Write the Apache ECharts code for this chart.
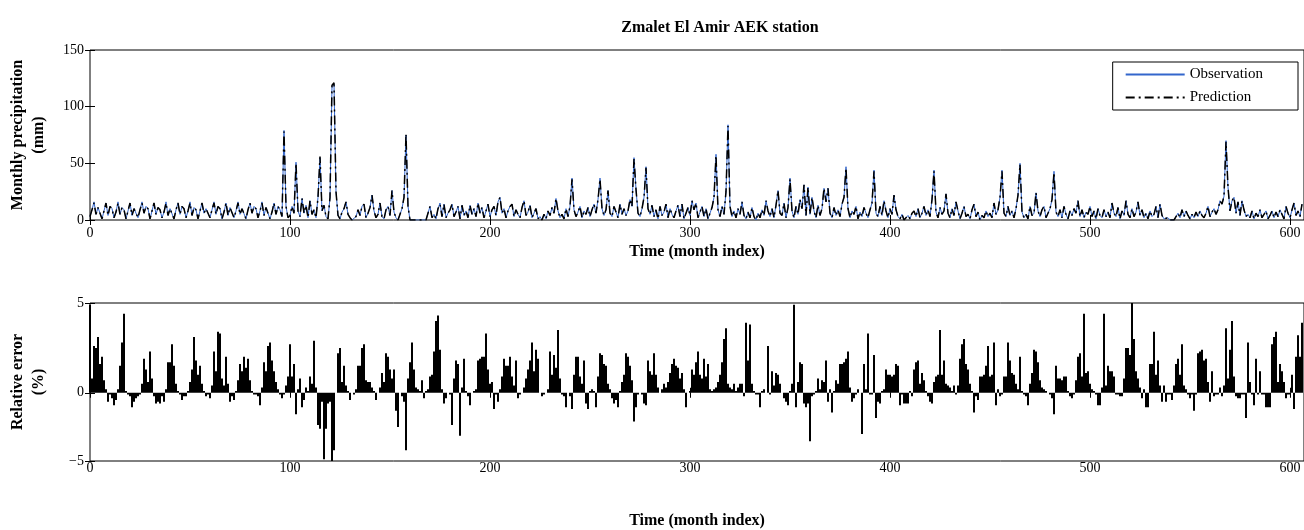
<!DOCTYPE html>
<html>
<head>
<meta charset="utf-8">
<script src="https://cdn.jsdelivr.net/npm/echarts@6/dist/echarts.min.js"></script>
<style>
  html, body { margin: 0; padding: 0; background: #fff; }
  #chart { width: 1304px; height: 530px; }
</style>
</head>
<body>
<div id="chart"></div>
<script>
// monthly precipitation (mm), month index 0..606
var observation = [
  3,9,16,5,11,10,1,8,15,4,  12,10,2,7,16,5,11,9,1,8,
  15,4,10,11,2,9,16,6,12,10,  1,8,15,5,11,9,2,7,16,4,
  10,11,1,9,15,5,12,10,2,8,  16,4,11,9,1,8,15,6,10,11,
  2,9,16,5,12,10,1,7,15,4,  11,10,2,8,16,5,10,9,1,9,
  15,6,12,10,2,8,16,4,11,10,  1,7,15,5,12,9,3,79,12,2,
  4,12,6,51,8,3,19,6,13,2,  17,5,9,2,20,55,8,13,3,1,
  20,118,120,25,4,1,7,10,16,5,  2,0,1,3,9,4,12,14,2,6,
  11,22,8,2,5,15,3,1,9,12,  4,26,7,2,0,5,10,20,75,12,
  0,0,0,1,0,0,0,1,0,0,  12,2,5,1,10,15,3,14,2,6,
  9,14,3,7,12,1,13,4,8,2,  13,5,10,3,15,6,11,2,8,14,
  3,9,12,4,16,20,6,10,2,8,  12,14,3,9,5,2,11,17,4,7,
  13,2,6,10,1,3,0,5,1,8,  4,11,6,19,8,2,5,1,10,3,
  12,37,9,3,7,12,2,8,5,11,  3,9,14,6,18,37,10,4,9,26,
  6,3,12,7,2,14,5,10,4,8,  18,12,55,27,6,3,10,20,47,10,
  5,13,3,9,1,12,4,7,14,2,  10,5,2,8,13,3,14,1,6,11,
  4,17,9,15,2,7,12,3,10,1,  6,11,20,58,9,3,12,5,25,84,
  12,3,8,2,10,5,16,4,1,7,  2,11,3,0,6,2,9,4,17,8,
  3,10,2,13,26,6,4,15,2,11,  37,8,2,12,5,18,10,31,4,29,
  5,20,8,2,13,4,10,28,16,28,  6,2,11,4,9,3,14,20,47,10,
  2,8,5,12,1,7,3,11,6,2,  9,15,44,6,3,12,4,17,8,2,
  10,5,22,9,3,1,5,0,2,4,  1,6,8,3,10,2,6,12,4,9,
  3,18,44,7,2,11,5,8,23,6,  2,10,4,16,8,1,6,12,3,5,
  1,9,14,3,7,0,4,2,8,3,  6,2,15,5,9,20,44,6,3,12,
  4,8,2,10,22,50,7,2,5,1,  12,4,6,24,8,3,9,12,2,6,
  10,18,43,7,3,9,2,12,5,1,  8,4,10,6,17,3,9,2,7,5,
  12,3,8,1,10,4,2,9,3,7,  2,15,6,3,11,1,8,4,17,5,
  2,10,3,7,16,4,9,2,6,1,  8,3,5,12,2,14,4,1,0,2,
  0,1,0,3,6,2,9,3,8,4,  1,5,2,7,3,8,4,2,6,12,
  3,7,10,5,9,17,14,21,70,29,  8,17,20,6,16,4,17,9,3,5,
  2,8,1,6,3,9,2,5,8,1,  4,8,2,7,3,9,5,1,12,6,
  2,9,15,4,8,3,14
];

var prediction = [
  3,9,15,5,11,10,1,8,15,4,  12,10,2,7,15,5,11,9,1,8,
  15,4,10,11,2,9,15,6,12,10,  1,8,15,5,11,9,2,7,15,4,
  10,11,1,9,15,5,12,10,2,8,  15,4,11,9,1,8,15,6,10,11,
  2,9,15,5,12,10,1,7,15,4,  11,10,2,8,15,5,10,9,1,9,
  15,6,12,10,2,8,15,4,11,10,  1,7,15,5,12,9,3,78,12,2,
  4,12,6,50,8,3,19,6,13,2,  17,5,9,2,20,56,8,13,3,1,
  20,119,121,25,4,1,7,10,16,5,  2,0,1,3,9,4,12,14,2,6,
  11,22,8,2,5,15,3,1,9,12,  4,26,7,2,0,5,10,20,76,12,
  0,0,0,1,0,0,0,1,0,0,  12,2,5,1,10,14,3,14,2,6,
  9,14,3,7,12,1,13,4,8,2,  13,5,10,3,15,6,11,2,8,14,
  3,9,12,4,16,20,6,10,2,8,  12,14,3,9,5,2,11,17,4,7,
  13,2,6,10,1,3,0,5,1,8,  4,11,6,19,8,2,5,1,10,3,
  12,36,9,3,7,12,2,8,5,11,  3,9,14,6,18,36,10,4,9,26,
  6,3,12,7,2,14,5,10,4,8,  18,12,54,27,6,3,10,20,46,10,
  5,13,3,9,1,12,4,7,14,2,  10,5,2,8,13,3,14,1,6,11,
  4,17,9,15,2,7,12,3,10,1,  6,11,20,57,9,3,12,5,25,83,
  12,3,8,2,10,5,16,4,1,7,  2,11,3,0,6,2,9,4,17,8,
  3,10,2,13,26,6,4,15,2,11,  36,8,2,12,5,18,10,31,4,29,
  5,20,8,2,13,4,10,28,16,28,  6,2,11,4,9,3,14,20,46,10,
  2,8,5,12,1,7,3,11,6,2,  9,15,43,6,3,12,4,17,8,2,
  10,5,22,9,3,1,5,0,2,4,  1,6,8,3,10,2,6,12,4,9,
  3,18,43,7,2,11,5,8,23,6,  2,10,4,16,8,1,6,12,3,5,
  1,9,14,3,7,0,4,2,8,3,  6,2,15,5,9,20,43,6,3,12,
  4,8,2,10,22,49,7,2,5,1,  12,4,6,24,8,3,9,12,2,6,
  10,18,42,7,3,9,2,12,5,1,  8,4,10,6,17,3,9,2,7,5,
  12,3,8,1,10,4,2,9,3,7,  2,15,6,3,11,1,8,4,17,5,
  2,10,3,7,16,4,9,2,6,1,  8,3,5,12,2,14,4,1,0,2,
  0,1,0,3,6,2,9,3,8,4,  1,5,2,7,3,8,4,2,6,12,
  3,7,10,5,9,17,14,21,69,29,  8,17,20,6,16,4,17,9,3,5,
  2,8,1,6,3,9,2,5,8,1,  4,8,2,7,3,9,5,1,12,6,
  2,9,15,4,8,3,14
];

// relative error (%), month index 0..606
var relativeError = [
  4.9,0.8,2.6,2.5,3.1,1.6,2.0,0.7,0.2,-0.5,
  -0.1,-0.3,-0.7,-0.4,0.2,1.5,2.8,4.4,0.1,-0.1,
  -0.2,-0.8,-0.5,-0.3,-0.2,-0.1,0.5,1.9,1.3,0.6,
  2.3,0.8,-0.2,-0.6,-0.5,-0.6,-0.2,-0.5,0.2,1.7,
  1.7,2.7,1.5,0.5,0.1,-0.1,-0.4,-0.2,-0.2,0.1,
  0.6,1.3,3.1,1.8,1.0,1.5,0.5,0.1,-0.2,-0.1,
  -0.3,0.4,2.3,1.2,3.4,3.3,0.8,0.4,2.0,0.5,
  -0.5,-0.2,-0.4,0.1,0.7,1.6,1.2,2.0,1.4,1.9,
  0.7,0.1,-0.1,-0.1,-0.2,-0.7,0.3,1.7,1.2,2.6,
  2.8,1.8,1.2,0.6,0.2,-0.1,-0.3,-0.1,0.4,0.9,
  2.7,0.9,1.6,-1.2,0.2,0.8,-0.8,-0.4,0.3,0.1,
  0.9,0.5,2.9,0.3,-1.8,-2.0,-0.5,-3.7,-2.0,-0.6,
  -0.5,-3.9,-3.2,0.0,2.2,2.5,0.6,1.5,0.4,0.1,
  -0.4,0.0,-0.1,0.2,1.5,1.5,2.5,2.7,0.7,0.6,
  0.6,0.3,0.1,-0.4,0.0,0.3,1.1,0.6,2.2,2.0,
  1.3,0.8,1.3,-1.0,-1.9,0.0,-0.2,-0.5,-3.2,0.8,
  1.7,2.8,1.3,0.3,0.2,0.1,0.7,-0.3,0.1,0.2,
  0.9,1.0,2.3,4.0,4.3,2.4,0.2,-0.6,-0.3,0.0,
  -0.1,-1.8,0.8,1.8,1.6,-2.4,0.3,1.9,0.1,-0.2,
  -0.7,0.0,0.1,0.2,1.8,1.9,2.0,2.0,3.3,1.3,
  0.5,0.6,-0.9,-0.1,-0.5,0.2,0.9,1.9,1.5,1.5,
  2.0,0.9,0.4,1.8,-0.3,-0.1,0.0,0.3,0.8,1.3,
  1.8,2.8,1.2,2.4,1.9,0.0,-0.2,-0.1,0.0,0.2,
  2.3,1.0,2.1,1.4,3.5,0.8,-0.1,-0.2,-0.8,0.0,
  -0.2,-0.9,1.0,2.0,2.0,0.9,0.5,1.8,-0.6,-0.9,
  0.1,0.2,0.1,-0.8,0.9,2.2,2.1,1.6,1.5,0.5,
  0.2,-0.3,-0.6,-0.4,-0.8,0.1,0.6,1.0,2.2,2.0,
  1.5,0.7,-1.6,-0.8,-0.1,0.0,-0.1,-0.6,-0.7,1.8,
  1.2,1.0,2.2,1.0,0.3,0.0,0.2,0.5,0.3,0.6,
  1.1,1.6,1.9,1.5,1.4,0.8,1.1,0.2,-0.8,0.0,
  0.1,1.3,1.0,1.7,2.3,1.0,0.8,1.9,0.9,1.6,
  0.2,0.1,0.2,0.3,0.6,1.0,1.7,3.0,3.6,0.5,
  0.3,0.2,0.5,0.1,0.3,0.5,0.5,-0.2,3.9,1.8,
  3.8,0.5,0.1,-0.1,-0.1,-0.8,0.1,0.2,0.0,2.6,
  -0.1,1.2,0.4,1.1,1.0,0.5,0.0,-0.3,-0.5,-0.7,
  0.1,0.5,4.9,-0.8,0.6,1.7,1.6,-0.6,-0.8,-0.6,
  -2.7,-0.2,-0.1,0.1,0.8,0.2,0.7,0.6,1.8,-0.5,
  0.2,-1.1,0.1,0.7,0.5,1.6,1.6,1.7,1.9,2.3,
  0.3,-0.5,-0.3,-0.1,0.2,0.0,-2.3,1.6,0.2,3.3,
  -0.1,-0.1,2.1,-1.4,-0.5,-0.6,0.1,0.2,1.3,1.0,
  1.0,0.9,1.0,1.6,1.5,-0.7,-0.1,-0.6,-0.6,-0.6,
  0.1,-0.2,1.3,1.7,1.8,0.5,1.1,0.7,0.1,-0.2,
  -0.5,-0.6,0.6,0.9,1.0,3.5,1.0,1.8,0.5,0.4,
  0.3,0.1,0.4,-0.1,0.4,1.9,2.7,3.0,1.6,1.3,
  0.5,0.1,-1.1,-0.2,-0.4,0.9,0.9,1.0,1.5,2.6,
  0.9,1.0,2.8,-0.7,0.2,-0.2,-0.1,0.9,0.9,2.8,
  1.8,1.1,1.0,0.5,0.2,2.0,0.1,-0.1,-0.2,-0.7,
  0.5,1.1,2.4,2.3,1.7,0.7,0.3,0.2,0.1,0.0,
  -0.1,-0.3,-1.2,1.5,0.8,0.8,0.7,0.9,0.9,0.1,
  -0.2,-0.3,-0.1,0.7,2.0,2.2,0.9,4.4,1.1,1.2,
  0.5,0.2,0.1,-0.1,-0.7,-0.7,0.3,4.4,0.4,1.5,
  1.2,1.2,0.9,-0.1,-0.1,-0.2,-0.2,0.8,2.5,2.5,
  2.1,5.0,3.0,1.2,0.8,0.3,-0.3,0.2,-0.8,-0.8,
  1.6,1.6,3.4,1.0,1.8,0.4,-0.5,0.4,-0.5,-0.1,
  -0.1,-0.4,0.4,1.6,1.9,1.0,2.7,0.4,0.2,-0.1,
  -0.3,-0.1,-1.0,-0.1,2.2,2.3,2.4,1.8,1.9,0.6,
  -0.5,1.2,-0.2,-0.1,-0.1,0.3,-0.2,0.4,3.6,0.8,
  2.4,4.0,0.9,-0.2,-0.3,-0.3,-0.1,-0.1,-1.4,2.8,
  0.6,-0.1,-0.7,1.9,-0.1,1.2,-0.1,-0.1,-0.8,-0.8,
  -0.8,2.7,3.1,3.4,0.6,1.6,1.2,0.6,-0.3,-0.1,
  -0.1,1.0,-0.9,2.0,3.2,2.0,3.9
];

var monthTicks = [0, 100, 200, 300, 400, 500, 600];
var errorTickValues = [-3.8, 0, 5];
var errorTickLabels = ['\u22125', '0', '5'];

var FONT = 'Liberation Serif';

function toPairs(arr) {
  return arr.map(function (v, i) { return [i, v]; });
}

var chart = echarts.init(document.getElementById('chart'), null, { renderer: 'canvas' });

function xAx(grid, pos, labels, name, gap, labelMargin) {
  return {
    type: 'value', gridIndex: grid, position: pos,
    min: 0, max: 607,
    axisLine: { show: false },
    splitLine: { show: false },
    axisTick: { show: true, inside: true, length: 5, customValues: monthTicks,
      lineStyle: { color: '#000', width: 1 } },
    axisLabel: { show: labels, customValues: monthTicks, margin: labelMargin == null ? 6 : labelMargin,
      color: '#000', fontFamily: FONT, fontSize: 14 },
    name: name || '', nameLocation: 'middle', nameGap: gap || 24,
    nameTextStyle: { color: '#000', fontFamily: FONT, fontSize: 16, fontWeight: 'bold' }
  };
}

var option = {
  animation: false,
  backgroundColor: '#fff',
  title: {
    text: 'Zmalet El Amir AEK station',
    left: 715, top: 15, textAlign: 'center',
    textStyle: { fontFamily: FONT, fontSize: 16, fontWeight: 'bold', color: '#000' }
  },
  legend: {
    data: ['Observation', 'Prediction'],
    orient: 'vertical', right: 6, top: 62,
    backgroundColor: '#fff', borderColor: '#000', borderWidth: 1, borderRadius: 0,
    padding: [5, 35, 5, 12], itemWidth: 59, itemHeight: 14, itemGap: 8,
    itemStyle: { opacity: 0 },
    textStyle: { fontFamily: FONT, fontSize: 15, color: '#000' }
  },
  grid: [
    { left: 90, top: 50, width: 1214, height: 170, show: true, borderColor: '#000', borderWidth: 1,
      outerBoundsMode: 'none' },
    { left: 90, top: 303, width: 1214, height: 158, show: true, borderColor: '#000', borderWidth: 1,
      outerBoundsMode: 'none' }
  ],
  xAxis: [
    xAx(0, 'bottom', true, 'Time (month index)', 24),
    xAx(0, 'top', false),
    xAx(1, 'bottom', true, 'Time (month index)', 52, 0),
    xAx(1, 'top', false)
  ],
  yAxis: [
    {
      type: 'value', gridIndex: 0, position: 'left', min: 0, max: 150, interval: 50,
      axisLine: { show: false }, splitLine: { show: false },
      axisTick: { inside: true, length: 5, lineStyle: { color: '#000' } },
      axisLabel: { margin: 6, color: '#000', fontFamily: FONT, fontSize: 14 },
      name: 'Monthly precipitation\n(mm)', nameLocation: 'middle', nameGap: 41, nameRotate: 90,
      nameTextStyle: { color: '#000', fontFamily: FONT, fontSize: 16, fontWeight: 'bold', lineHeight: 21 }
    },
    {
      type: 'value', gridIndex: 0, position: 'right', min: 0, max: 150, interval: 50,
      axisLine: { show: false }, splitLine: { show: false },
      axisTick: { inside: true, length: 5, lineStyle: { color: '#000' } },
      axisLabel: { show: false }
    },
    {
      type: 'value', gridIndex: 1, position: 'left', min: -3.8, max: 5,
      axisLine: { show: false }, splitLine: { show: false },
      axisTick: { inside: true, length: 5, customValues: errorTickValues, lineStyle: { color: '#000' } },
      axisLabel: {
        customValues: errorTickValues, margin: 6, color: '#000', fontFamily: FONT, fontSize: 14,
        formatter: function (v) { return errorTickLabels[errorTickValues.indexOf(v)]; }
      },
      name: 'Relative error\n(%)', nameLocation: 'middle', nameGap: 41, nameRotate: 90,
      nameTextStyle: { color: '#000', fontFamily: FONT, fontSize: 16, fontWeight: 'bold', lineHeight: 21 }
    },
    {
      type: 'value', gridIndex: 1, position: 'right', min: -3.8, max: 5,
      axisLine: { show: false }, splitLine: { show: false },
      axisTick: { inside: true, length: 5, customValues: errorTickValues, lineStyle: { color: '#000' } },
      axisLabel: { show: false }
    }
  ],
  series: [
    {
      name: 'Observation', type: 'line', xAxisIndex: 0, yAxisIndex: 0,
      data: toPairs(observation), symbol: 'none', z: 2,
      color: '#3366cc', lineStyle: { color: '#3366cc', width: 1 }
    },
    {
      name: 'Prediction', type: 'line', xAxisIndex: 0, yAxisIndex: 0,
      data: toPairs(prediction), symbol: 'none', z: 3,
      color: '#000', lineStyle: { color: '#000', width: 1.5, type: [9, 4, 2, 4] }
    },
    {
      name: 'Relative error', type: 'bar', xAxisIndex: 2, yAxisIndex: 2,
      data: toPairs(relativeError), barWidth: 2,
      itemStyle: { color: '#000' }
    }
  ]
};

chart.setOption(option);
</script>
</body>
</html>
